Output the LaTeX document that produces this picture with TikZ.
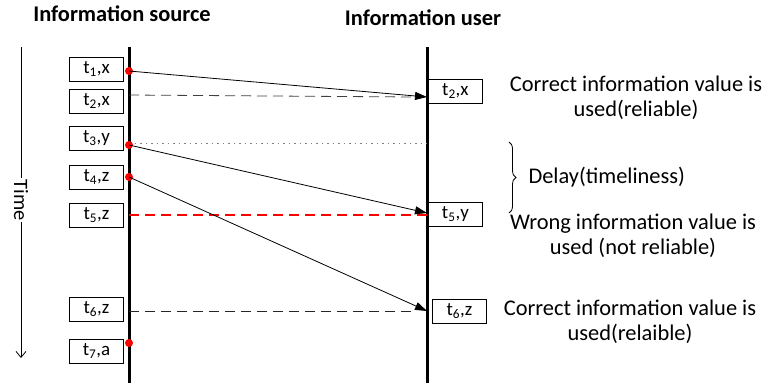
\documentclass[tikz,border=0pt]{standalone}
\usepackage{fontspec}
\setmainfont{Carlito}
\usetikzlibrary{arrows.meta,decorations.pathreplacing}
\begin{document}
\begin{tikzpicture}[x=1bp,y=-1bp,
 lifeline/.style={line width=3bp},
 tbox/.style={draw, line width=0.8bp, minimum width=54bp, minimum height=24bp, inner sep=0pt, font=\fontsize{19}{22}\selectfont},
 rdot/.style={circle, fill=red, inner sep=0pt, minimum size=8bp},
 msg/.style={line width=0.8bp, -{Triangle[length=12bp,width=8bp]}},
 dsh/.style={line width=0.8bp, dash pattern=on 10bp off 6bp},
 note/.style={align=center, font=\fontsize{22.5}{25}\selectfont},
 ttl/.style={font=\bfseries\fontsize{22.5}{26}\selectfont},
]
\useasboundingbox (0,0) rectangle (769,385);
% titles
\node[ttl] (tsrc) at (122,14) {Information source};
\node[ttl] (tusr) at (423,18) {Information user};
% lifelines
\coordinate (s0) at (129,47); \coordinate (s1) at (129,383);
\coordinate (u0) at (427,47); \coordinate (u1) at (427,383);
\draw[lifeline] (s0) -- (s1);
\draw[lifeline] (u0) -- (u1);
% time axis
\coordinate (ta) at (21,47); \coordinate (tb) at (21,358);
\draw[line width=0.8bp, -{Straight Barb[length=6bp,width=10bp]}] (ta) -- (tb);
\node[fill=white, rotate=-90, inner sep=1bp, font=\fontsize{20.5}{24}\selectfont] (time) at (21,200) {Time};
% source boxes
\node[tbox] (b1) at (96.5,69) {t\textsubscript{1},x};
\node[tbox] (b2) at (96.5,101) {t\textsubscript{2},x};
\node[tbox] (b3) at (96.5,138) {t\textsubscript{3},y};
\node[tbox] (b4) at (96.5,177) {t\textsubscript{4},z};
\node[tbox] (b5) at (96.5,215) {t\textsubscript{5},z};
\node[tbox] (b6) at (96.5,309) {t\textsubscript{6},z};
\node[tbox] (b7) at (96.5,351) {t\textsubscript{7},a};
% user boxes
\node[tbox, anchor=west] (c2) at (428,91) {t\textsubscript{2},x};
\node[tbox, anchor=west] (c5) at (428,214) {t\textsubscript{5},y};
\node[tbox, anchor=west] (c6) at (432,311) {t\textsubscript{6},z};
% points on lines
\coordinate (p2) at (129,95);
\coordinate (p3d) at (129,143);
\coordinate (p5) at (129,215);
\coordinate (p6) at (129,311);
\coordinate (q1) at (427,97);
\coordinate (q2) at (415,97);
\coordinate (q3d) at (427,143);
\coordinate (q3) at (427,213);
\coordinate (q5) at (427,215);
\coordinate (q4) at (427,311);
\coordinate (q6) at (415,311);
% messages
\draw[dsh, draw=black!75] (p2) -- (q2);
\draw[line width=0.8bp, draw=gray, dash pattern=on 1.5bp off 4bp] (p3d) -- (q3d);
\draw[red, line width=1.1bp, dash pattern=on 10bp off 6bp] (p5) -- (q5);
\draw[dsh, draw=black!85] (p6) -- (q6);
% red dots
\node[rdot] (d1) at (129,71) {};
\node[rdot] (d3) at (129,145) {};
\node[rdot] (d4) at (129,177) {};
\node[rdot] (d7) at (129,343) {};
\draw[msg] (d1.center) -- (q1);
\draw[msg] (d3.center) -- (q3);
\draw[msg] (d4.center) -- (q4);
% brace
\coordinate (br0) at (509,142); \coordinate (br1) at (509,213);
\draw[line width=0.8bp, decorate, decoration={brace, amplitude=7bp}] (br0) -- (br1);
% notes
\node[note] (n1) at (636,98) {Correct information value is\\used(reliable)};
\node[note, anchor=west] (n2) at (525,177) {Delay(timeliness)};
\node[note] (n3) at (633,236) {Wrong information value is\\used (not reliable)};
\node[note] (n4) at (630,322) {Correct information value is\\used(relaible)};
\end{tikzpicture}
\end{document}
